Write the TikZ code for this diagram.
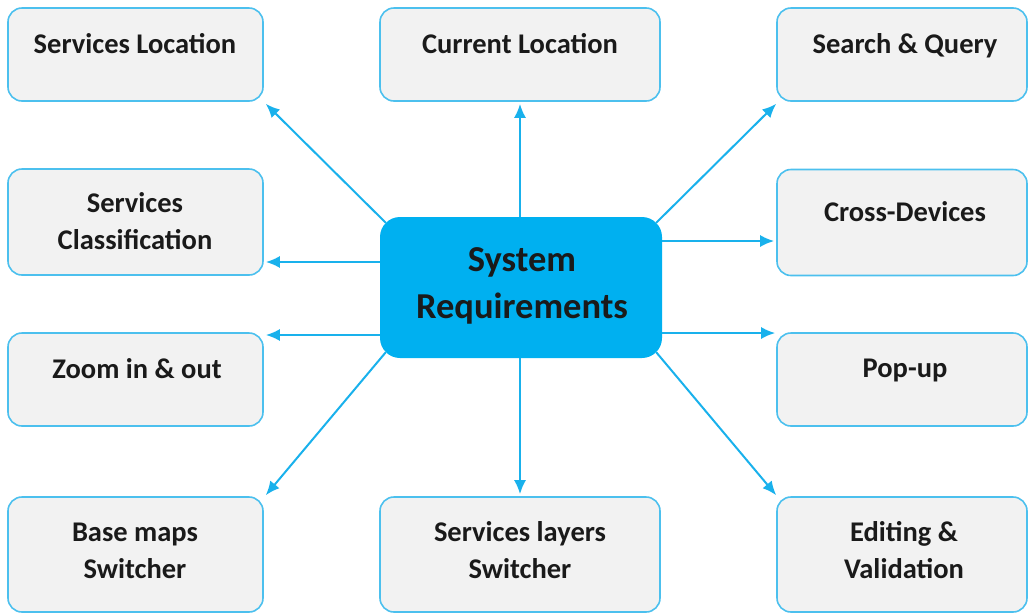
\documentclass[tikz,border=0pt]{standalone}
\usepackage{fontspec}
\setmainfont{Carlito}
\usetikzlibrary{arrows.meta,calc}
\definecolor{hub}{HTML}{00B0F0}
\definecolor{rim}{HTML}{4CC0EE}
\definecolor{panel}{HTML}{F2F2F2}
\definecolor{link}{HTML}{19B1EC}
\definecolor{ink}{HTML}{1A1A1A}

\begin{document}
\begin{tikzpicture}[x=1pt,y=-1pt,
  box/.style={draw=rim, line width=1.6pt, fill=panel, rounded corners=14pt, inner sep=0pt},
  hubbox/.style={fill=hub, rounded corners=20pt, inner sep=0pt},
  txt/.style={font=\fontsize{28.5}{37}\selectfont\bfseries, text=ink, align=center, inner sep=0pt},
  hubtxt/.style={font=\fontsize{36.5}{47}\selectfont\bfseries, text=ink, align=center, inner sep=0pt},
  arr/.style={draw=link, line width=2pt, -{Latex[length=14pt,width=12pt]}}]

\useasboundingbox (0,0) rectangle (1028,614);

% central hub
\node[hubbox, minimum width=282pt, minimum height=141pt] (hub) at (521,287.5) {};
\node[hubtxt] (hub-t) at (522,285.5) {System\\Requirements};

% left column
\node[box, minimum width=255pt, minimum height=93pt]  (sl) at (135.5,54.5) {};
\node[box, minimum width=255pt, minimum height=106pt] (sc) at (135.5,222)  {};
\node[box, minimum width=255pt, minimum height=93pt]  (zo) at (135.5,379.5) {};
\node[box, minimum width=255pt, minimum height=115pt] (bm) at (135.5,554.5) {};

% middle column
\node[box, minimum width=280pt, minimum height=93pt]  (cl) at (520,54.5) {};
\node[box, minimum width=280pt, minimum height=115pt] (ls) at (520,554.5) {};

% right column
\node[box, minimum width=250pt, minimum height=93pt]  (sq) at (902,54.5) {};
\node[box, minimum width=250pt, minimum height=106pt] (cd) at (902,222.5) {};
\node[box, minimum width=250pt, minimum height=93pt]  (pu) at (902,379.5) {};
\node[box, minimum width=250pt, minimum height=115pt] (ev) at (902,554.5) {};

% box captions
\node[txt] (sl-t) at (135,44)    {Services Location};
\node[txt] (sc-t) at (135,221.5) {Services\\Classification};
\node[txt] (zo-t) at (137,369)   {Zoom in \& out};
\node[txt] (bm-t) at (135,550.5) {Base maps\\Switcher};
\node[txt] (cl-t) at (520,44)    {Current Location};
\node[txt] (ls-t) at (520,550.5) {Services layers\\Switcher};
\node[txt] (sq-t) at (905,45.5)  {Search \& Query};
\node[txt] (cd-t) at (905,212)   {Cross-Devices};
\node[txt] (pu-t) at (905,370.5) {Pop-up};
\node[txt] (ev-t) at (904,550.5) {Editing \&\\Validation};

% connectors
\draw[arr] ($(hub.north west)+(6,6)$) -- ($(sl.south east)+(2,2)$);
\draw[arr] (hub.north -| cl.south) -- ($(cl.south)+(0,2)$);
\draw[arr] ($(hub.north east)+(-6,6)$) -- ($(sq.south west)+(0,2)$);
\draw[arr] ([yshift=46.5pt]hub.east) -- ($([yshift=46.5pt]hub.east -| cd.west)+(-2,0)$);
\draw[arr] ([yshift=-45.5pt]hub.east) -- ($([yshift=-45.5pt]hub.east -| pu.west)+(-1,0)$);
\draw[arr] ($(hub.south east)+(-6,-6)$) -- ($(ev.north west)+(0,-1)$);
\draw[arr] (hub.south -| ls.north) -- ($(ls.north)+(0,-2)$);
\draw[arr] ($(hub.south west)+(6,-6)$) -- ($(bm.north east)+(2,-1)$);
\draw[arr] ([yshift=-47.5pt]hub.west) -- ($([yshift=-47.5pt]hub.west -| zo.east)+(2,0)$);
\draw[arr] ([yshift=25.5pt]hub.west) -- ($([yshift=25.5pt]hub.west -| sc.east)+(2,0)$);
\end{tikzpicture}
\end{document}
